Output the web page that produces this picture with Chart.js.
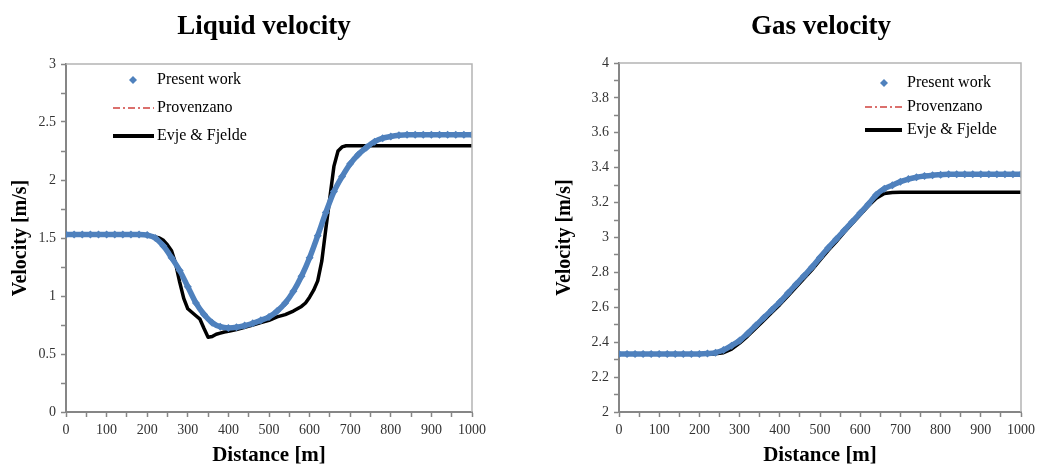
<!DOCTYPE html>
<html>
<head>
<meta charset="utf-8">
<title>Liquid and gas velocity</title>
<script src="https://cdn.jsdelivr.net/npm/chart.js@4.4.0/dist/chart.umd.min.js"></script>
<style>
  body { margin: 0; background: #fff; }
  #wrap { position: relative; width: 1040px; height: 466px; }
  canvas { position: absolute; top: 0; }
  #liquidChart { left: 0; }
  #gasChart { left: 520px; }
</style>
</head>
<body>
<div id="wrap">
  <canvas id="liquidChart" width="520" height="466"></canvas>
  <canvas id="gasChart" width="520" height="466"></canvas>
</div>
<script>
const distance = [0, 20, 40, 60, 80, 100, 120, 140, 160, 180, 200, 220, 240, 260, 280, 300, 320, 340, 360, 380,
    400, 420, 440, 460, 480, 500, 520, 540, 560, 580, 600, 620, 640, 660, 680, 700, 720, 740, 760, 780,
    800, 820, 840, 860, 880, 900, 920, 940, 960, 980, 1000];

// Liquid velocity (m/s)
const liquidPresent = [1.53, 1.53, 1.53, 1.53, 1.53, 1.53, 1.53, 1.53, 1.53, 1.53, 1.525, 1.50, 1.43, 1.33, 1.22, 1.08, 0.94, 0.84, 0.77, 0.735,
    0.725, 0.73, 0.745, 0.765, 0.79, 0.82, 0.87, 0.94, 1.04, 1.17, 1.33, 1.52, 1.72, 1.90, 2.03, 2.14, 2.22, 2.28, 2.33, 2.36,
    2.375, 2.385, 2.39, 2.39, 2.39, 2.39, 2.39, 2.39, 2.39, 2.39, 2.39];
const liquidProvenzano = [1.53, 1.53, 1.53, 1.53, 1.53, 1.53, 1.53, 1.53, 1.53, 1.53, 1.525, 1.50, 1.43, 1.33, 1.21, 1.07, 0.93, 0.83, 0.765, 0.735,
    0.725, 0.73, 0.745, 0.765, 0.79, 0.82, 0.87, 0.94, 1.04, 1.17, 1.33, 1.52, 1.72, 1.90, 2.03, 2.14, 2.22, 2.28, 2.33, 2.36,
    2.375, 2.385, 2.39, 2.39, 2.39, 2.39, 2.39, 2.39, 2.39, 2.39, 2.39];
const liquidEvjeX = [0, 100, 190, 200, 210, 220, 230, 240, 250, 260, 270, 280, 290, 300, 310, 320, 330, 340, 350, 360,
    370, 380, 390, 400, 420, 440, 460, 480, 500, 520, 540, 560, 570, 580, 590, 600, 610, 620, 630, 640,
    650, 660, 670, 680, 690, 700, 800, 900, 1000];
const liquidEvje = [1.53, 1.53, 1.53, 1.525, 1.52, 1.51, 1.50, 1.48, 1.44, 1.39, 1.28, 1.12, 0.98, 0.89, 0.86, 0.83, 0.80, 0.72, 0.645, 0.65,
    0.67, 0.68, 0.69, 0.695, 0.71, 0.73, 0.75, 0.77, 0.79, 0.82, 0.84, 0.87, 0.89, 0.91, 0.94, 0.99, 1.05, 1.13, 1.30, 1.58,
    1.85, 2.12, 2.25, 2.285, 2.295, 2.295, 2.295, 2.295, 2.295];

// Gas velocity (m/s)
const gasPresent = [2.333, 2.333, 2.333, 2.333, 2.333, 2.333, 2.333, 2.333, 2.333, 2.333, 2.333, 2.335, 2.34, 2.355, 2.38, 2.41, 2.45, 2.495, 2.54, 2.585,
    2.63, 2.68, 2.73, 2.78, 2.83, 2.885, 2.94, 2.99, 3.04, 3.09, 3.14, 3.19, 3.245, 3.28, 3.30, 3.32, 3.335, 3.345, 3.352, 3.357,
    3.36, 3.363, 3.363, 3.363, 3.363, 3.363, 3.363, 3.363, 3.363, 3.363, 3.363];
const gasProvenzano = [2.333, 2.333, 2.333, 2.333, 2.333, 2.333, 2.333, 2.333, 2.333, 2.333, 2.333, 2.336, 2.342, 2.358, 2.385, 2.415, 2.45, 2.495, 2.54, 2.585,
    2.63, 2.68, 2.73, 2.78, 2.83, 2.885, 2.94, 2.99, 3.04, 3.09, 3.14, 3.19, 3.245, 3.28, 3.30, 3.32, 3.335, 3.345, 3.352, 3.357,
    3.36, 3.363, 3.363, 3.363, 3.363, 3.363, 3.363, 3.363, 3.363, 3.363, 3.363];
const gasEvje = [2.333, 2.333, 2.333, 2.333, 2.333, 2.333, 2.333, 2.333, 2.333, 2.333, 2.333, 2.333, 2.333, 2.34, 2.36, 2.395, 2.435, 2.48, 2.525, 2.57,
    2.615, 2.665, 2.715, 2.765, 2.815, 2.87, 2.925, 2.975, 3.03, 3.08, 3.13, 3.18, 3.225, 3.252, 3.258, 3.26, 3.26, 3.26, 3.26, 3.26,
    3.26, 3.26, 3.26, 3.26, 3.26, 3.26, 3.26, 3.26, 3.26, 3.26, 3.26];

const seriesNames = ['Present work', 'Provenzano', 'Evje & Fjelde'];

const BLUE = '#4f81bd';
const RED = '#d0413e';
const AXIS = '#868686';
const SERIF = '"Liberation Serif", "Times New Roman", serif';

function pairs(xs, ys) {
    return ys.map((y, i) => ({ x: xs[i], y: y }));
}

// title, plot frame and the legend inside the plot
const decorPlugin = {
    id: 'decor',
    afterDraw(chart, args, opts) {
        const ctx = chart.ctx;
        const a = chart.chartArea;
        ctx.save();

        ctx.strokeStyle = '#b4b4b4';
        ctx.lineWidth = 1.5;
        ctx.beginPath();
        ctx.moveTo(a.left, a.top);
        ctx.lineTo(a.right, a.top);
        ctx.lineTo(a.right, a.bottom);
        ctx.stroke();

        ctx.fillStyle = '#000';
        ctx.font = 'bold 27px ' + SERIF;
        ctx.textAlign = 'center';
        ctx.textBaseline = 'middle';
        ctx.fillText(opts.title, opts.titleX, 27);

        const lg = opts.legend;
        const ds = chart.data.datasets;
        // marker for Present work
        const mx = lg.markX, my = lg.rows[0], r = 4;
        ctx.fillStyle = ds[0].backgroundColor;
        ctx.beginPath();
        ctx.moveTo(mx, my - r);
        ctx.lineTo(mx + r, my);
        ctx.lineTo(mx, my + r);
        ctx.lineTo(mx - r, my);
        ctx.closePath();
        ctx.fill();
        // lines for the two other series
        [1, 2].forEach(i => {
            ctx.strokeStyle = ds[i].borderColor;
            ctx.lineWidth = i === 2 ? 4 : 1.3;
            ctx.setLineDash(ds[i].borderDash || []);
            ctx.beginPath();
            ctx.moveTo(lg.lineX1, lg.rows[i]);
            ctx.lineTo(lg.lineX2, lg.rows[i]);
            ctx.stroke();
        });
        ctx.setLineDash([]);

        ctx.fillStyle = '#000';
        ctx.font = '16px ' + SERIF;
        ctx.textAlign = 'left';
        seriesNames.forEach((name, i) => ctx.fillText(name, lg.textX, lg.rows[i]));
        ctx.restore();
    }
};

function makeChart(id, cfg) {
    const ctx = document.getElementById(id).getContext('2d');
    return new Chart(ctx, {
        type: 'line',
        data: {
            datasets: [{
                label: seriesNames[0],
                data: cfg.present,
                borderColor: BLUE,
                backgroundColor: BLUE,
                borderWidth: 5.5,
                pointStyle: 'rectRot',
                pointRadius: 4,
                pointBorderWidth: 0,
                cubicInterpolationMode: 'monotone'
            }, {
                label: seriesNames[1],
                data: cfg.provenzano,
                borderColor: RED,
                backgroundColor: RED,
                borderWidth: 1.3,
                borderDash: [7, 3, 2, 3],
                pointRadius: 0,
                cubicInterpolationMode: 'monotone'
            }, {
                label: seriesNames[2],
                data: cfg.evje,
                borderColor: '#000',
                backgroundColor: '#000',
                borderWidth: 3.5,
                borderJoinStyle: 'round',
                pointRadius: 0
            }]
        },
        options: {
            responsive: false,
            animation: false,
            devicePixelRatio: 1,
            layout: { padding: cfg.padding },
            plugins: {
                legend: { display: false },
                tooltip: { enabled: false },
                decor: { title: cfg.title, titleX: cfg.titleX, legend: cfg.legend }
            },
            scales: {
                x: {
                    type: 'linear',
                    min: 0,
                    max: 1000,
                    ticks: {
                        stepSize: 50,
                        autoSkip: false,
                        maxRotation: 0,
                        padding: 5,
                        color: '#333',
                        font: { family: SERIF, size: 14 },
                        callback: v => (v % 100 === 0 ? v : '')
                    },
                    grid: { drawOnChartArea: false, tickLength: 5, color: AXIS, tickWidth: 1.5 },
                    border: { color: AXIS, width: 2 },
                    title: {
                        display: true,
                        text: 'Distance [m]',
                        color: '#000',
                        font: { family: SERIF, size: 21, weight: 'bold' },
                        padding: { top: 0, bottom: -2 }
                    },
                    afterFit: s => { s.height = 54; }
                },
                y: {
                    min: cfg.yMin,
                    max: cfg.yMax,
                    ticks: {
                        stepSize: cfg.yMinor,
                        autoSkip: false,
                        padding: 5,
                        color: '#333',
                        font: { family: SERIF, size: 14 },
                        callback: cfg.yLabel
                    },
                    grid: { drawOnChartArea: false, tickLength: 5, color: AXIS, tickWidth: 1.5 },
                    border: { color: AXIS, width: 2 },
                    title: {
                        display: true,
                        text: 'Velocity [m/s]',
                        color: '#000',
                        font: { family: SERIF, size: 20, weight: 'bold' },
                        padding: { top: 5, bottom: 0 }
                    },
                    afterFit: s => { s.width = cfg.yWidth; }
                }
            }
        },
        plugins: [decorPlugin]
    });
}

makeChart('liquidChart', {
    present: pairs(distance, liquidPresent),
    provenzano: pairs(distance, liquidProvenzano),
    evje: pairs(liquidEvjeX, liquidEvje),
    title: 'Liquid velocity',
    titleX: 264,
    padding: { left: 4, right: 48, top: 64, bottom: 0 },
    yWidth: 62,
    yMin: 0,
    yMax: 3,
    yMinor: 0.25,
    yLabel: v => {
        const r = Math.round(v * 4);
        return r % 2 === 0 ? String(r / 4) : '';
    },
    legend: { markX: 133, lineX1: 113, lineX2: 154, textX: 157, rows: [80, 108, 136] }
});

makeChart('gasChart', {
    present: pairs(distance, gasPresent),
    provenzano: pairs(distance, gasProvenzano),
    evje: pairs(distance, gasEvje),
    title: 'Gas velocity',
    titleX: 301,
    padding: { left: 28, right: 16, top: 63, bottom: 0 },
    yWidth: 71,
    yMin: 2,
    yMax: 4,
    yMinor: 0.1,
    yLabel: v => {
        const r = Math.round(v * 10);
        return r % 2 === 0 ? String(r / 10) : '';
    },
    legend: { markX: 364, lineX1: 345, lineX2: 382, textX: 387, rows: [83, 107, 130] }
});
</script>
</body>
</html>
